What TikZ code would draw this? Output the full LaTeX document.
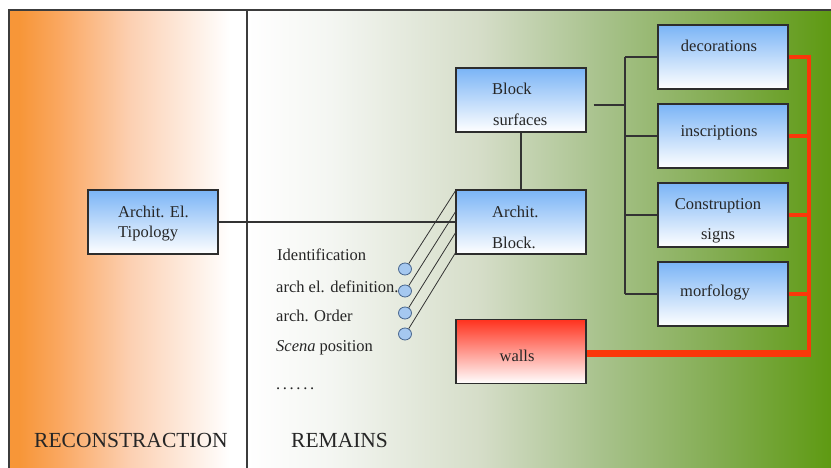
\documentclass[tikz,border=0pt]{standalone}
\usepackage{fontspec}
\setmainfont{Liberation Serif}
\usetikzlibrary{calc,shapes.geometric}
\definecolor{frameline}{RGB}{60,60,60}
\definecolor{boxline}{RGB}{45,45,45}
\definecolor{boxtop}{RGB}{122,180,246}
\definecolor{boxmid}{RGB}{196,222,250}
\definecolor{walltop}{RGB}{255,50,30}
\definecolor{wallmid}{RGB}{255,160,155}
\definecolor{redline}{RGB}{250,55,10}
\definecolor{or1}{RGB}{247,150,56}
\definecolor{or2}{RGB}{250,168,98}
\definecolor{or3}{RGB}{252,208,178}
\definecolor{gr1}{RGB}{244,246,242}
\definecolor{gr2}{RGB}{213,221,200}
\definecolor{gr3}{RGB}{168,194,140}
\definecolor{gr4}{RGB}{130,172,80}
\definecolor{gr5}{RGB}{94,154,18}
\definecolor{dotfill}{RGB}{165,200,240}
\definecolor{dotline}{RGB}{70,100,140}
\tikzset{
  box/.style={draw=boxline, line width=1.3pt, rectangle, minimum width=130pt, minimum height=64pt,
    top color=boxtop, middle color=boxmid, bottom color=white, inner sep=0pt},
  wallbox/.style={box, top color=walltop, middle color=wallmid, bottom color=white},
  lbl/.style={inner sep=0pt, font=\fontsize{16.5}{18}\selectfont, text=black!85},
  big/.style={inner sep=0pt, font=\fontsize{21.5}{24}\selectfont, text=black!85},
  link/.style={draw=black!80, line width=1.2pt},
  thinlink/.style={draw=black!80, line width=0.8pt},
  redlink/.style={draw=redline, line width=4pt},
  dotnode/.style={ellipse, draw=dotline, fill=dotfill, line width=0.8pt, minimum width=13pt, minimum height=12pt, inner sep=0pt},
}
\begin{document}
\begin{tikzpicture}[x=1pt,y=-1pt]
\useasboundingbox (0,0) rectangle (831,468);
\fill[white] (0,0) rectangle (831,468);
% left panel
\fill[or1] (9,10) rectangle (20,468);
\shade[left color=or1, right color=or2] (19.5,10) rectangle (60.5,468);
\shade[left color=or2, right color=or3] (60,10) rectangle (130.5,468);
\shade[left color=or3, right color=white] (130,10) rectangle (230,468);
% right panel
\shade[left color=white, right color=gr1] (247,10) rectangle (330.5,468);
\shade[left color=gr1, right color=gr2] (330,10) rectangle (480.5,468);
\shade[left color=gr2, right color=gr3] (480,10) rectangle (600.5,468);
\shade[left color=gr3, right color=gr4] (600,10) rectangle (720.5,468);
\shade[left color=gr4, right color=gr5] (720,10) rectangle (831,468);
% frame
\draw[frameline, line width=1.3pt] (9,470) -- (9,10) -- (833,10);
\draw[frameline, line width=1.3pt] (247,10) -- (247,470);

% boxes
\node[box] (tip) at (153,222) {};
\node[box] (bs) at (521,100) {};
\node[box] (ab) at (521,222) {};
\node[box] (dec) at (723,57) {};
\node[box] (ins) at (723,136) {};
\node[box] (con) at (723,215) {};
\node[box] (mor) at (723,294) {};
\node[wallbox] (wal) at (521,351.5) {};

% box texts
\node[lbl, anchor=base west] (tipa) at (118,218) {Archit. El.};
\node[lbl, anchor=base west] (tipb) at (118,237) {Tipology};
\node[lbl, anchor=base west] (bsa) at (492,95) {Block};
\node[lbl, anchor=base west] (bsb) at (493,126) {surfaces};
\node[lbl, anchor=base west] (aba) at (492,218) {Archit.};
\node[lbl, anchor=base west] (abb) at (492,248) {Block.};
\node[lbl, anchor=base] (deca) at (719,52) {decorations};
\node[lbl, anchor=base] (insa) at (719,137) {inscriptions};
\node[lbl, anchor=base] (cona) at (718,210) {Construption};
\node[lbl, anchor=base] (conb) at (718,240) {signs};
\node[lbl, anchor=base] (mora) at (715,296) {morfology};
\node[lbl, anchor=base] (wala) at (517,361) {walls};

% list
\node[lbl, anchor=base west] (l1) at (277,261) {Identification};
\node[lbl, anchor=base west] (l2) at (276,292) {arch el. definition.};
\node[lbl, anchor=base west] (l3) at (276,321) {arch. Order};
\node[lbl, anchor=base west] (l4) at (276,351) {{\itshape Scena} position};
\node[lbl, anchor=base west] (l5) at (276,389) {\addfontfeature{LetterSpace=16}......};

% circles
\node[dotnode] (c1) at (405,269) {};
\node[dotnode] (c2) at (405,291) {};
\node[dotnode] (c3) at (405,313) {};
\node[dotnode] (c4) at (405,334) {};

% headings
\node[big, anchor=base west] (rec) at (34,447) {RECONSTRACTION};
\node[big, anchor=base west] (rem) at (291,447) {REMAINS};

% connectors
\draw[link] (tip.east) -- (ab.west);
\draw[link] (bs.south) -- (ab.north);
\coordinate (bsout) at ($(bs.east)+(7,5)$);
\coordinate (trk) at (625,105);
\draw[link] (bsout) -- (trk);
\draw[link] (dec.west -| trk) -- (mor.west -| trk);
\draw[link] (dec.west -| trk) -- (dec.west);
\draw[link] (ins.west -| trk) -- (ins.west);
\draw[link] (con.west -| trk) -- (con.west);
\draw[link] (mor.west -| trk) -- (mor.west);

\draw[thinlink] (c1.55) -- ($(ab.west)+(0,-31)$);
\draw[thinlink] (c2.55) -- ($(ab.west)+(0,-10)$);
\draw[thinlink] (c3.55) -- ($(ab.west)+(0,11)$);
\draw[thinlink] (c4.55) -- ($(ab.west)+(0,31)$);

% red connectors
\coordinate (rv) at (809,353);
\draw[redlink] (dec.east) -- (dec.east -| rv) -- (rv);
\draw[redlink] (ins.east) -- (ins.east -| rv);
\draw[redlink] (con.east) -- (con.east -| rv);
\draw[redlink] (mor.east) -- (mor.east -| rv);
\draw[draw=redline, line width=7pt] (wal.east |- rv) -- ($(rv)+(2,0)$);
\end{tikzpicture}
\end{document}
